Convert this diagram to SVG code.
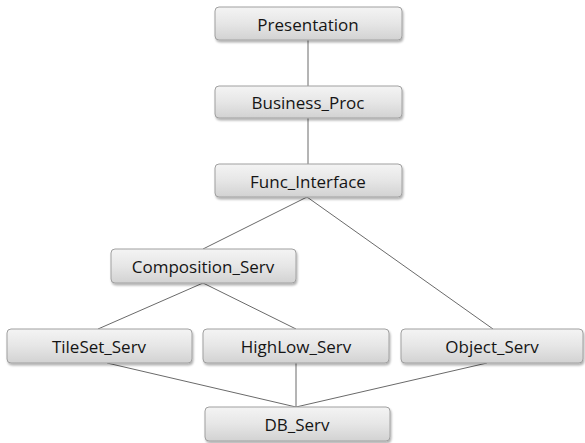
<svg xmlns="http://www.w3.org/2000/svg" width="585" height="443" viewBox="0 0 585 443">
<defs>
<linearGradient id="g" x1="0" y1="0" x2="0" y2="1">
<stop offset="0" stop-color="#f4f4f4"/>
<stop offset="0.5" stop-color="#e6e6e6"/>
<stop offset="1" stop-color="#d2d2d2"/>
</linearGradient>
<filter id="sh" x="-5%" y="-20%" width="110%" height="150%">
<feDropShadow dx="1" dy="2" stdDeviation="1" flood-color="#000" flood-opacity="0.3"/>
</filter>
</defs>
<style>
.box{fill:url(#g);stroke:#a0a0a0;stroke-width:1;filter:url(#sh)}
.lbl{font-family:"Open Sans","Noto Sans","Liberation Sans",sans-serif;font-size:17px;fill:#151515;text-anchor:middle}
.edge{stroke:#6a6a6a;stroke-width:1;fill:none}
</style>
<rect width="585" height="443" fill="#fff"/>
<g id="connectors">
<line class="edge" x1="308" y1="40" x2="308" y2="86"/>
<line class="edge" x1="308" y1="118" x2="308" y2="164"/>
<line class="edge" x1="307" y1="197" x2="203" y2="249"/>
<line class="edge" x1="307" y1="197" x2="493" y2="329"/>
<line class="edge" x1="203" y1="283" x2="98" y2="329"/>
<line class="edge" x1="203" y1="283" x2="296" y2="329"/>
<line class="edge" x1="107" y1="363" x2="296" y2="407"/>
<line class="edge" x1="296" y1="363" x2="296" y2="407"/>
<line class="edge" x1="487" y1="363" x2="296" y2="407"/>
</g>
<g id="Presentation"><rect class="box" x="215" y="7" width="187" height="33" rx="4"/><text class="lbl" x="308" y="31">Presentation</text></g>
<g id="Business_Proc"><rect class="box" x="215" y="86" width="187" height="32" rx="4"/><text class="lbl" x="308" y="109">Business_Proc</text></g>
<g id="Func_Interface"><rect class="box" x="215" y="164" width="187" height="33" rx="4"/><text class="lbl" x="308" y="188">Func_Interface</text></g>
<g id="Composition_Serv"><rect class="box" x="111" y="249" width="185" height="34" rx="4"/><text class="lbl" x="203" y="273">Composition_Serv</text></g>
<g id="TileSet_Serv"><rect class="box" x="7" y="329" width="185" height="34" rx="4"/><text class="lbl" x="99" y="353">TileSet_Serv</text></g>
<g id="HighLow_Serv"><rect class="box" x="203" y="329" width="186" height="34" rx="4"/><text class="lbl" x="296" y="353">HighLow_Serv</text></g>
<g id="Object_Serv"><rect class="box" x="401" y="329" width="182" height="34" rx="4"/><text class="lbl" x="492" y="353">Object_Serv</text></g>
<g id="DB_Serv"><rect class="box" x="205" y="407" width="185" height="34" rx="4"/><text class="lbl" x="297" y="431">DB_Serv</text></g>
</svg>
